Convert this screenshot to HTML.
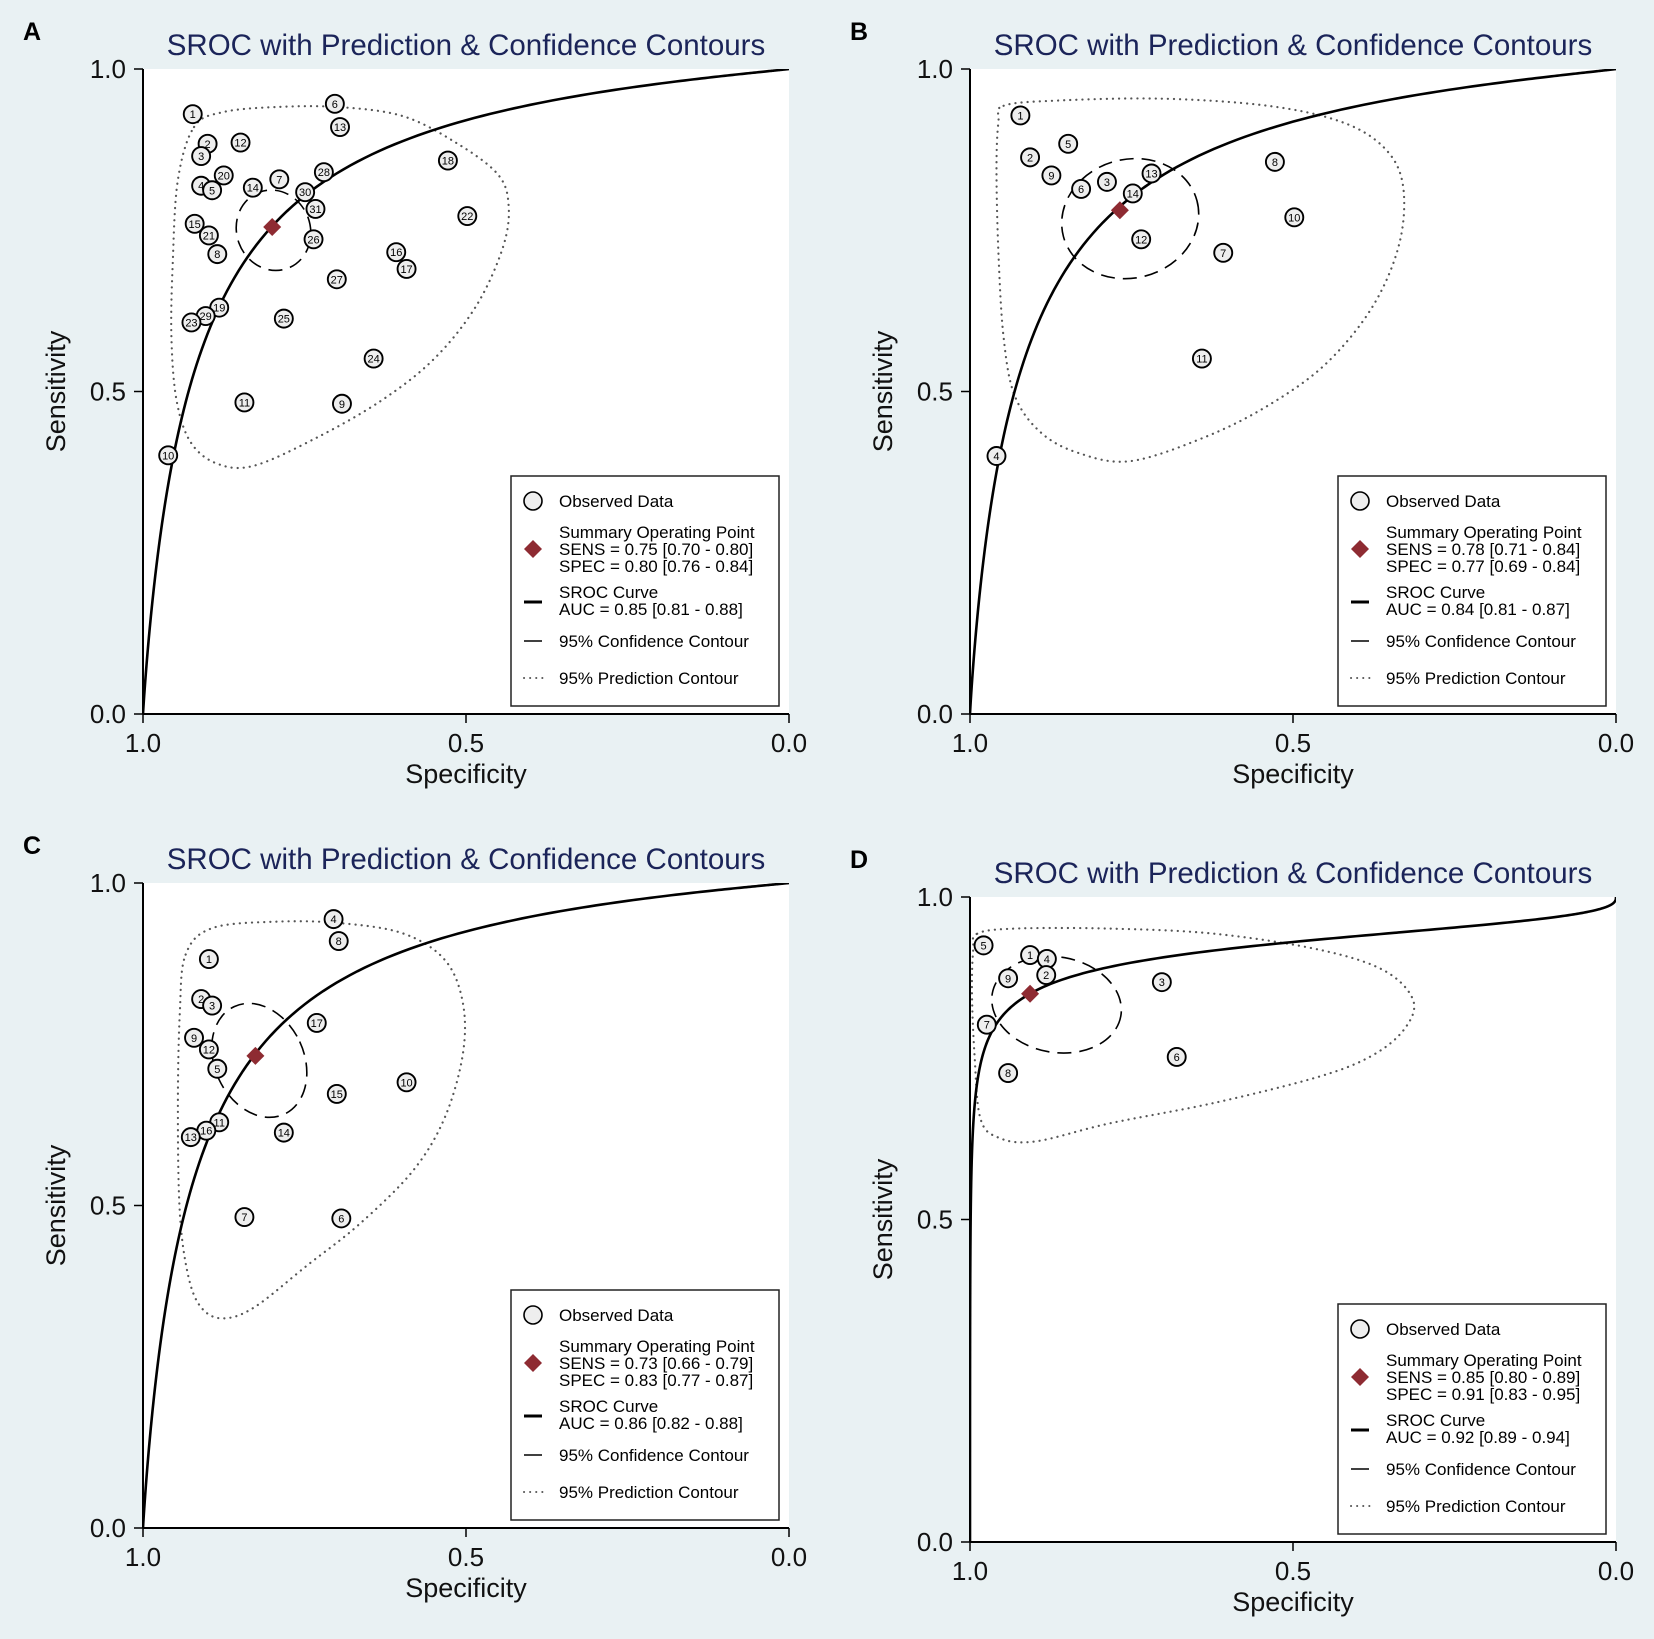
<!DOCTYPE html>
<html><head><meta charset="utf-8"><style>
html,body{margin:0;padding:0;background:#e9f1f3;}
svg{display:block;font-family:"Liberation Sans",Arial,sans-serif;}
</style></head><body>
<svg id="chart" width="1654" height="1639" viewBox="0 0 1654 1639" xmlns="http://www.w3.org/2000/svg">
<rect x="0" y="0" width="1654" height="1639" fill="#e9f1f3"/>
</svg>
<script>
// ---- Panel A data ----
const aLabels=[1,2,3,12,20,4,5,14,7,30,28,6,13,31,26,18,22,15,21,8,16,17,27,19,29,23,25,24,11,9,10];
const aSpec=[.923,.900,.910,.849,.875,.910,.893,.830,.789,.749,.720,.703,.695,.733,.736,.528,.498,.920,.898,.885,.608,.592,.700,.882,.903,.925,.782,.643,.843,.692,.961];
const aSens=[.930,.884,.865,.886,.835,.819,.812,.816,.829,.809,.840,.946,.910,.783,.736,.858,.772,.760,.742,.713,.716,.690,.674,.630,.617,.607,.613,.551,.483,.481,.401];
const aSummary=[.80,.755];
const aSroc=[2.45,0.95];
const aConf=[.798,.750,.057,.063,-20];
const aPredSpec=[.921,.877,.795,.697,.598,.516,.451,.434,.443,.484,.549,.631,.730,.828,.885,.926,.948,.956,.954,.946];
const aPredSens=[.910,.933,.941,.941,.927,.886,.837,.788,.723,.633,.551,.486,.429,.385,.388,.421,.486,.584,.698,.828];
const aLegend=["SENS = 0.75 [0.70 - 0.80]","SPEC = 0.80 [0.76 - 0.84]","AUC = 0.85 [0.81 - 0.88]"];
// ---- Panel B data ----
const bLabels=[1,2,5,9,6,3,13,14,12,8,10,7,11,4];
const bSpec=[.922,.907,.848,.874,.828,.788,.719,.748,.735,.528,.498,.608,.641,.959];
const bSens=[.928,.863,.884,.835,.814,.825,.838,.807,.736,.856,.770,.715,.551,.400];
const bSummary=[.768,.781];
const bSroc=[2.42,0.93];
const bConf=[.752,.768,.107,.092,-15];
const bPredSpec=[.948,.866,.703,.539,.425,.359,.330,.335,.376,.449,.539,.637,.752,.833,.891,.931,.948,.956,.959,.956];
const bPredSens=[.943,.951,.954,.943,.918,.878,.821,.731,.633,.543,.478,.429,.392,.405,.437,.494,.584,.715,.845,.918];
const bLegend=["SENS = 0.78 [0.71 - 0.84]","SPEC = 0.77 [0.69 - 0.84]","AUC = 0.84 [0.81 - 0.87]"];
// ---- Panel C data ----
const cLabels=[4,8,1,2,3,17,9,12,5,10,15,11,16,13,14,7,6];
const cSpec=[.705,.697,.898,.910,.893,.731,.921,.898,.885,.592,.700,.882,.902,.926,.782,.843,.693];
const cSens=[.944,.910,.882,.820,.810,.783,.760,.742,.712,.691,.673,.629,.616,.606,.613,.482,.480];
const cSummary=[.826,.732];
const cSroc=[2.51,0.955];
const cConf=[.820,.725,.069,.092,-25];
const cPredSpec=[.934,.893,.795,.697,.598,.533,.505,.505,.533,.582,.664,.746,.828,.877,.910,.930,.943,.946,.943];
const cPredSens=[.889,.930,.940,.938,.922,.881,.815,.734,.636,.554,.472,.407,.342,.325,.342,.391,.489,.652,.799];
const cLegend=["SENS = 0.73 [0.66 - 0.79]","SPEC = 0.83 [0.77 - 0.87]","AUC = 0.86 [0.82 - 0.88]"];
// ---- Panel D data ----
const dLabels=[5,1,4,2,9,3,7,6,8];
const dSpec=[.979,.907,.881,.882,.941,.703,.974,.680,.941];
const dSens=[.925,.910,.904,.879,.874,.868,.802,.752,.727];
const dSummary=[.907,.850];
const dSroc=[2.59,0.375];
const dConf=[.866,.833,.101,.074,10];
const dPredSpec=[.989,.931,.784,.621,.458,.359,.314,.327,.376,.458,.621,.784,.899,.956,.984,.993,.997,.995];
const dPredSens=[.943,.951,.951,.943,.918,.886,.840,.796,.755,.722,.681,.649,.621,.627,.657,.755,.853,.918];
const dLegend=["SENS = 0.85 [0.80 - 0.89]","SPEC = 0.91 [0.83 - 0.95]","AUC = 0.92 [0.89 - 0.94]"];

const tickVals=[0,0.5,1];
const tickText=["0.0","0.5","1.0"];
const NS="http://www.w3.org/2000/svg";
const svg=document.getElementById('chart');
function mk(tag,attrs,parent,text){const e=document.createElementNS(NS,tag);for(const k in attrs)e.setAttribute(k,attrs[k]);if(text!==undefined)e.textContent=text;parent.appendChild(e);return e;}

function drawPanel(letter,L,T,labels,spec,sens,summary,sroc,conf,pSpec,pSens,legend){
  const W=646,H=645;
  const xs=s=>L+(1-s)*W;
  const ys=v=>T+(1-v)*H;
  const g=mk('g',{},svg);
  
  
  const pl=mk('text',{x:L-120,y:T-29,'font-size':25,'font-weight':'bold',fill:'#000'},g,letter);
  
  
  const ti=mk('text',{x:L+W/2,y:T-14,'font-size':29.5,fill:'#1b2459','text-anchor':'middle'},g,'SROC with Prediction & Confidence Contours');
  
  
  const pa=mk('rect',{x:L,y:T,width:W,height:H,fill:'#fff'},g);
  
  
  const clipId='clip'+letter;
  const cp=mk('clipPath',{id:clipId},g);mk('rect',{x:L,y:T,width:W,height:H},cp);
  const ya=mk('line',{x1:L,y1:T,x2:L,y2:T+H,stroke:'#000','stroke-width':2},g);
  
  const xa=mk('line',{x1:L,y1:T+H,x2:L+W,y2:T+H,stroke:'#000','stroke-width':2},g);
  
  tickVals.forEach((v,i)=>{
    mk('line',{x1:L-9,y1:ys(v),x2:L,y2:ys(v),stroke:'#000','stroke-width':1.5},g);
    const yt=mk('text',{x:L-17,y:ys(v)+9,'font-size':26,'text-anchor':'end',fill:'#111'},g,tickText[i]);
    
    mk('line',{x1:xs(v),y1:T+H,x2:xs(v),y2:T+H+9,stroke:'#000','stroke-width':1.5},g);
    const xt=mk('text',{x:xs(v),y:T+H+38,'font-size':26,'text-anchor':'middle',fill:'#111'},g,tickText[i]);
    
  });
  const xtl=mk('text',{x:L+W/2,y:T+H+69,'font-size':27,'text-anchor':'middle',fill:'#111'},g,'Specificity');
  
  const ytl=mk('text',{x:0,y:0,'font-size':27,'text-anchor':'middle',fill:'#111',transform:`translate(${L-78},${T+H/2}) rotate(-90)`},g,'Sensitivity');
  
  const P=pSpec.map((s,i)=>[xs(s),ys(pSens[i])]);const n=P.length;
  let d=`M${P[0][0]},${P[0][1]}`;
  for(let i=0;i<n;i++){const p0=P[(i-1+n)%n],p1=P[i],p2=P[(i+1)%n],p3=P[(i+2)%n];
    d+=` C${p1[0]+(p2[0]-p0[0])/6},${p1[1]+(p2[1]-p0[1])/6} ${p2[0]-(p3[0]-p1[0])/6},${p2[1]-(p3[1]-p1[1])/6} ${p2[0]},${p2[1]}`;}
  const pc=mk('path',{d:d+'Z',fill:'none',stroke:'#555','stroke-width':2.2,'stroke-dasharray':'0.1 6','stroke-linecap':'round'},g);
  
  let pts=[];
  for(let z=-14;z<=14.001;z+=0.05){const fpr=1/(1+Math.exp(-z));const ls=sroc[0]+sroc[1]*z;const se=1/(1+Math.exp(-ls));pts.push(`${xs(1-fpr).toFixed(2)},${ys(se).toFixed(2)}`);}
  pts.unshift(`${xs(1)},${ys(0)}`);pts.push(`${xs(0)},${ys(1)}`);
  const sc=mk('polyline',{points:pts.join(' '),fill:'none',stroke:'#000','stroke-width':2.6,'clip-path':`url(#${clipId})`},g);
  
  const ce=mk('ellipse',{cx:xs(conf[0]),cy:ys(conf[1]),rx:conf[2]*W,ry:conf[3]*H,fill:'none',stroke:'#000','stroke-width':1.6,'stroke-dasharray':'14 8',transform:`rotate(${conf[4]} ${xs(conf[0])} ${ys(conf[1])})`},g);
  
  labels.forEach((lb,i)=>{
    const pg=mk('g',{},g);
    
    
    mk('circle',{cx:xs(spec[i]),cy:ys(sens[i]),r:9,fill:'#eeeeee',stroke:'#000','stroke-width':1.9},pg);
    mk('text',{x:xs(spec[i]),y:ys(sens[i])+4,'font-size':11,'text-anchor':'middle',fill:'#000'},pg,String(lb));
  });
  const sx=xs(summary[0]),sy=ys(summary[1]);
  const sd=mk('polygon',{points:`${sx},${sy-9} ${sx+9},${sy} ${sx},${sy+9} ${sx-9},${sy}`,fill:'#8e2b32'},g);
  
  const lg=mk('g',{},g);
  
  const lx=L+368,ly=T+407;
  mk('rect',{x:lx,y:ly,width:268,height:230,fill:'#fff',stroke:'#222','stroke-width':1.5},lg);
  const tx=lx+48,fs=17;
  mk('circle',{cx:lx+22,cy:ly+25,r:9,fill:'#eee',stroke:'#000','stroke-width':1.6},lg);
  mk('text',{x:tx,y:ly+31,'font-size':fs},lg,'Observed Data');
  mk('polygon',{points:`${lx+22},${ly+64} ${lx+31},${ly+73} ${lx+22},${ly+82} ${lx+13},${ly+73}`,fill:'#8e2b32'},lg);
  mk('text',{x:tx,y:ly+62,'font-size':fs},lg,'Summary Operating Point');
  mk('text',{x:tx,y:ly+79,'font-size':fs},lg,legend[0]);
  mk('text',{x:tx,y:ly+96,'font-size':fs},lg,legend[1]);
  mk('line',{x1:lx+13,y1:ly+126,x2:lx+31,y2:ly+126,stroke:'#000','stroke-width':3},lg);
  mk('text',{x:tx,y:ly+122,'font-size':fs},lg,'SROC Curve');
  mk('text',{x:tx,y:ly+139,'font-size':fs},lg,legend[2]);
  mk('line',{x1:lx+13,y1:ly+165,x2:lx+31,y2:ly+165,stroke:'#000','stroke-width':1.5},lg);
  mk('text',{x:tx,y:ly+171,'font-size':fs},lg,'95% Confidence Contour');
  mk('line',{x1:lx+13,y1:ly+202,x2:lx+33,y2:ly+202,stroke:'#555','stroke-width':2,'stroke-dasharray':'0.1 6','stroke-linecap':'round'},lg);
  mk('text',{x:tx,y:ly+208,'font-size':fs},lg,'95% Prediction Contour');
}
drawPanel('A',143,69,aLabels,aSpec,aSens,aSummary,aSroc,aConf,aPredSpec,aPredSens,aLegend);
drawPanel('B',970,69,bLabels,bSpec,bSens,bSummary,bSroc,bConf,bPredSpec,bPredSens,bLegend);
drawPanel('C',143,883,cLabels,cSpec,cSens,cSummary,cSroc,cConf,cPredSpec,cPredSens,cLegend);
drawPanel('D',970,897,dLabels,dSpec,dSens,dSummary,dSroc,dConf,dPredSpec,dPredSens,dLegend);
</script>
</body></html>
